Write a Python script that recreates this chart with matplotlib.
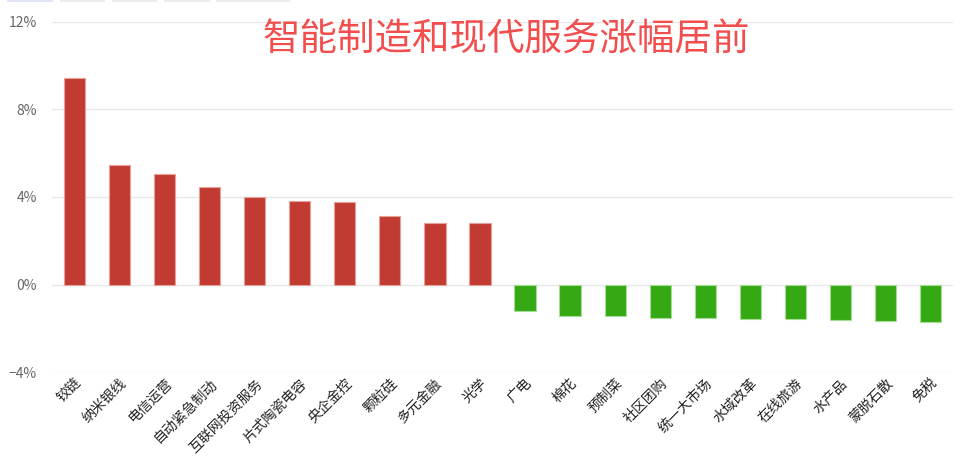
import matplotlib
matplotlib.use("Agg")
import matplotlib.pyplot as plt
from matplotlib.patches import Rectangle

plt.rcParams['font.family'] = ['Noto Sans CJK SC', 'DejaVu Sans']

# 板块名称和涨跌幅(%)
names = ["铰链", "纳米银线", "电信运营", "自动紧急制动", "互联网投资服务",
         "片式陶瓷电容", "央企金控", "颗粒硅", "多元金融", "光学",
         "广电", "棉花", "预制菜", "社区团购", "统一大市场",
         "水域改革", "在线旅游", "水产品", "蒙脱石散", "免税"]
changes = [9.45, 5.45, 5.05, 4.45, 4.02, 3.8, 3.75, 3.15, 2.83, 2.83,
           -1.19, -1.43, -1.43, -1.54, -1.54, -1.58, -1.58, -1.63, -1.68, -1.72]
yticks = [-4, 0, 4, 8, 12]
title = "智能制造和现代服务涨幅居前"

W, H = 969, 473
fig = plt.figure(figsize=(W / 100, H / 100), dpi=100)
ax = fig.add_axes([52 / W, (H - 372) / H, (953 - 52) / W, (372 - 22) / H])

colors = ["#c13b32" if v >= 0 else "#35a914" for v in changes]
edges = ["#e9a09a" if v >= 0 else "#a6dd94" for v in changes]
x = list(range(len(names)))
ax.bar(x, changes, width=0.47, color=colors, edgecolor=edges, linewidth=0.8, zorder=3)

ax.set_xlim(-0.5, len(names) - 0.5)
ax.set_ylim(-4, 12)
ax.set_yticks(yticks)
ax.set_yticklabels([("−%d%%" % -t) if t < 0 else "%d%%" % t for t in yticks],
                   color="#666666", fontsize=10)
ax.grid(axis="y", color="#e8e8e8", linewidth=1, zorder=0)
ax.tick_params(axis="y", length=0, pad=11)
ax.tick_params(axis="x", length=0, pad=3)
ax.set_xticks(x)
ax.set_xticklabels(names, rotation=45, ha="right", va="top",
                   rotation_mode="anchor", fontsize=10, color="#222222")
for s in ax.spines.values():
    s.set_visible(False)

ax.text(506 / W, 1 - 40 / H, title, transform=fig.transFigure, ha="center", va="center",
        fontsize=27, color="#f24e4e")

# 顶部浅色标签条
for x0, x1, c in [(7, 53, "#dfe4f7"), (60, 105, "#ececec"), (112, 157, "#ececec"),
                  (164, 210, "#ececec"), (216, 290, "#ececec")]:
    fig.patches.append(Rectangle((x0 / W, 1 - 2 / H), (x1 - x0) / W, 2 / H,
                                 transform=fig.transFigure, color=c, lw=0))

fig.savefig("out.png", dpi=100)
